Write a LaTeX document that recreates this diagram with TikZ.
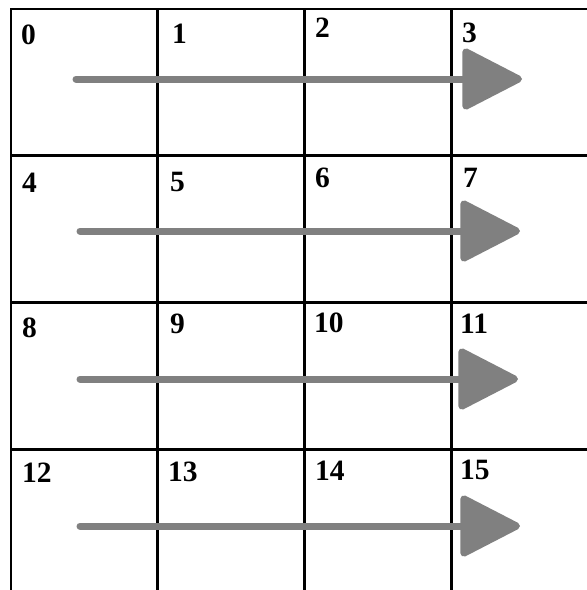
\documentclass[tikz,border=0pt]{standalone}
\usepackage{fontspec}
\setmainfont{Liberation Serif}
\usetikzlibrary{arrows.meta}
\definecolor{arrowgray}{RGB}{128,128,128}
\tikzset{
  x=1pt, y=-1pt,
  cell/.style={draw=black, line width=2.8pt, minimum size=146.7pt, inner sep=0pt, outer sep=0pt},
  lbl/.style={anchor=north west, inner sep=0pt, font=\bfseries\fontsize{29.5}{29.5}\selectfont},
  flow/.style={draw=arrowgray, line width=7pt, line cap=round,
    -{Triangle[length=64pt, width=64pt, round]}},
}
\begin{document}
\begin{tikzpicture}
\useasboundingbox (0,0) rectangle (587,590);
\clip (0,0) rectangle (587,590);
\fill[white] (0,0) rectangle (587,590);
% cells
\foreach \r in {0,1,2,3}{
  \foreach \c in {0,1,2,3}{
    \pgfmathtruncatemacro{\n}{4*\r+\c}
    \node[cell] (c\n) at ({11+73.35+146.7*\c},{9+73.35+146.7*\r}) {};
  }
}
% labels
\node[lbl] (l0) at (21,25) {0};
\node[lbl] (l1) at (172,24) {1};
\node[lbl] (l2) at (315,18) {2};
\node[lbl] (l3) at (462,23) {3};
\node[lbl] (l4) at (22,173) {4};
\node[lbl] (l5) at (170,172) {5};
\node[lbl] (l6) at (315,168) {6};
\node[lbl] (l7) at (463,168) {7};
\node[lbl] (l8) at (22,318) {8};
\node[lbl] (l9) at (170,314) {9};
\node[lbl] (l10) at (314,313) {10};
\node[lbl] (l11) at (460,314) {11};
\node[lbl] (l12) at (22,463) {12};
\node[lbl] (l13) at (168,462) {13};
\node[lbl] (l14) at (315,461) {14};
\node[lbl] (l15) at (460,460) {15};
% arrows
\coordinate (s0) at (76,79);  \coordinate (e0) at (522,79);
\coordinate (s1) at (80,231); \coordinate (e1) at (520,231);
\coordinate (s2) at (80,379); \coordinate (e2) at (518,379);
\coordinate (s3) at (80,526); \coordinate (e3) at (520,526);
\draw[flow] (s0) -- (e0);
\draw[flow] (s1) -- (e1);
\draw[flow] (s2) -- (e2);
\draw[flow] (s3) -- (e3);
\end{tikzpicture}
\end{document}
